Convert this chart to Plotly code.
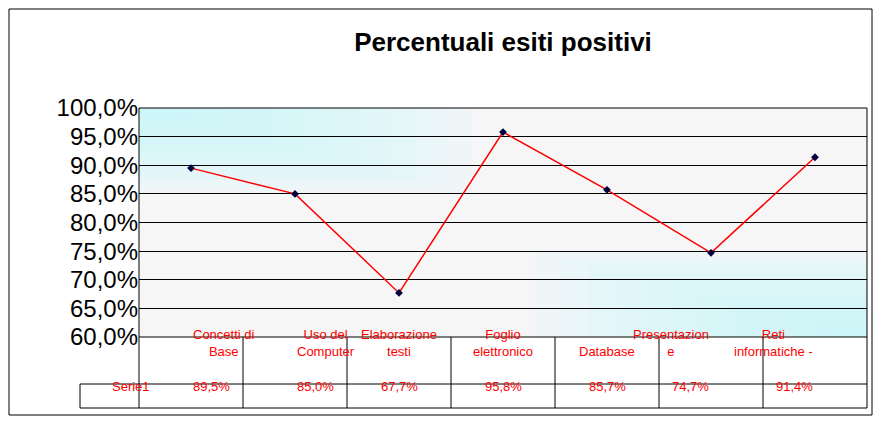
import plotly.graph_objects as go

categories = ["Concetti di<br>Base", "Uso del<br>Computer", "Elaborazione<br>testi", "Foglio<br>elettronico",
              "Database", "Presentazion<br>e", "Reti<br>informatiche -"]
values = [89.5, 85.0, 67.7, 95.8, 85.7, 74.7, 91.4]
series_name = "Serie1"
tick_vals = [60, 65, 70, 75, 80, 85, 90, 95, 100]
tick_text = [f"{v:.1f}%".replace(".", ",") for v in tick_vals]

W, H = 865, 408
L, R, T, B = 131, 6, 100, 79
PW, PH = W - L - R, H - T - B
n = len(values)
xs = [i + 0.5 for i in range(n)]

fig = go.Figure()
fig.add_trace(go.Scatter(x=xs, y=values, mode="lines+markers",
                         line=dict(color="#ff0000", width=1.5),
                         marker=dict(symbol="diamond", size=6, color="#000040")))

shapes = []
for i in range(12):
    f = i / 12
    shapes.append(dict(type="rect", xref="x", yref="y", x0=0, x1=3.2 * (1 - f), y0=100 - 15 * (1 - f), y1=100,
                       fillcolor="rgba(200,250,255,0.12)", line=dict(width=0), layer="below"))
    shapes.append(dict(type="rect", xref="x", yref="y", x0=7 - 3.2 * (1 - f), x1=7, y0=60, y1=60 + 15 * (1 - f),
                       fillcolor="rgba(200,250,255,0.12)", line=dict(width=0), layer="below"))
shapes.append(dict(type="rect", xref="paper", yref="paper", x0=0, x1=1, y0=0, y1=1, line=dict(color="black", width=1)))

def px(u):
    return u / n

r1, r2 = -47 / PH, -71 / PH
xs_left = -59 / PW
line = dict(color="black", width=1)
for i in range(n + 1):
    shapes.append(dict(type="line", xref="paper", yref="paper", x0=px(i), x1=px(i), y0=0, y1=r2, line=line))
for yy in (r1, r2):
    shapes.append(dict(type="line", xref="paper", yref="paper", x0=xs_left, x1=1, y0=yy, y1=yy, line=line))
shapes.append(dict(type="line", xref="paper", yref="paper", x0=xs_left, x1=xs_left, y0=r1, y1=r2, line=line))
shapes.append(dict(type="rect", xref="paper", yref="paper", x0=-(L - 1) / PW, x1=1 + (R - 1) / PW,
                   y0=-(B - 1) / PH, y1=1 + (T - 1) / PH, line=line))

ann = []
for x, c, v in zip(xs, categories, values):
    ann.append(dict(x=px(x), y=r1 / 2, xref="paper", yref="paper", text=c, showarrow=False,
                    font=dict(color="#ff0000", size=13)))
    ann.append(dict(x=px(x), y=(r1 + r2) / 2, xref="paper", yref="paper", text=f"{v:.1f}%".replace(".", ","),
                    showarrow=False, font=dict(color="#ff0000", size=13)))
ann.append(dict(x=xs_left / 2, y=(r1 + r2) / 2, xref="paper", yref="paper", text=series_name, showarrow=False,
                font=dict(color="#ff0000", size=13)))

fig.update_layout(
    width=W, height=H, margin=dict(l=L, r=R, t=T, b=B),
    paper_bgcolor="white", plot_bgcolor="#f6f6f6",
    font=dict(family="Arial, Liberation Sans", color="black"),
    title=dict(text="<b>Percentuali esiti positivi</b>", x=0.5, xanchor="center", xref="paper",
               y=1 - 34 / H, yanchor="middle", font=dict(size=26)),
    showlegend=False, shapes=shapes, annotations=ann,
    xaxis=dict(range=[0, 7], showticklabels=False, showgrid=False, zeroline=False),
    yaxis=dict(range=[60, 100], tickvals=tick_vals, ticktext=tick_text, tickfont=dict(size=24),
               showgrid=True, gridcolor="black", gridwidth=1, zeroline=False, ticks="", ticklen=0),
)
fig.write_html("out.html")
